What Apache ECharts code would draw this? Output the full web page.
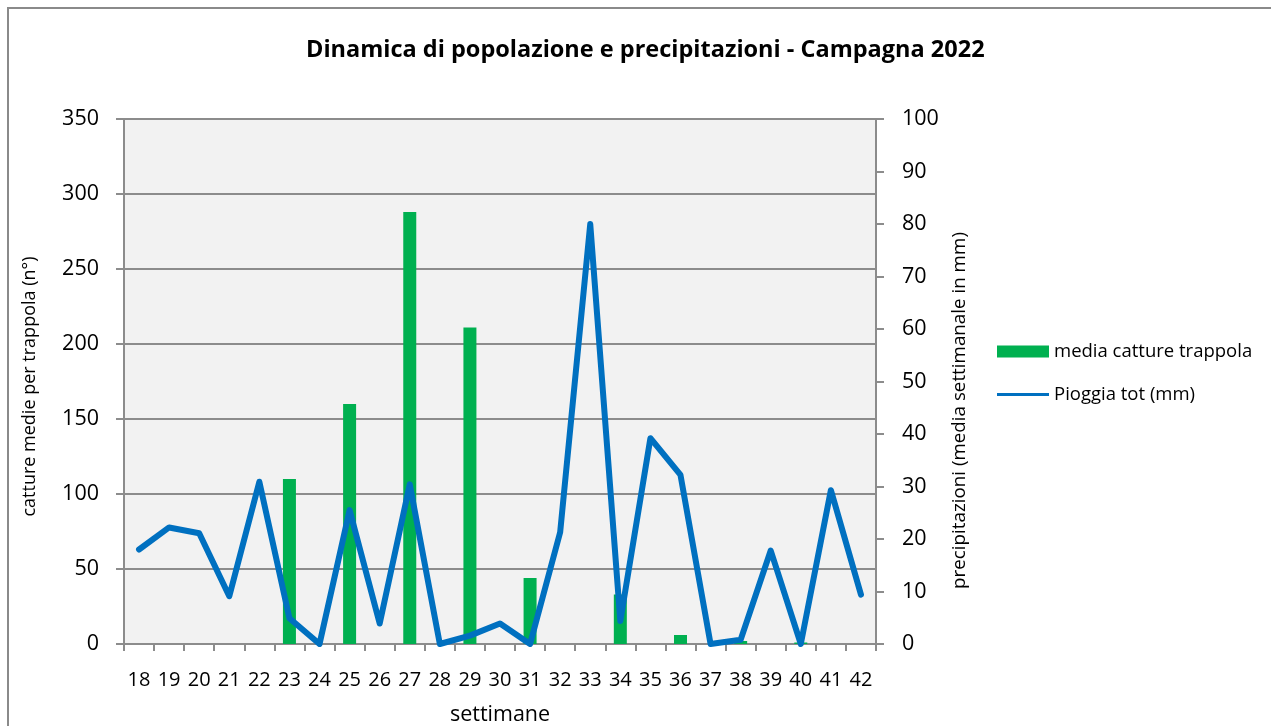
<!DOCTYPE html>
<html>
<head>
<meta charset="utf-8">
<script src="https://cdn.jsdelivr.net/npm/echarts@6/dist/echarts.min.js"></script>
<style>
  html, body { margin: 0; padding: 0; background: #fff; }
  #chart { width: 1271px; height: 726px; }
</style>
</head>
<body>
<div id="chart"></div>
<script>
// settimane
var weeks = ["18","19","20","21","22","23","24","25","26","27","28","29","30","31","32","33","34","35","36","37","38","39","40","41","42"];
// media catture trappola (asse sinistro)
var catture = [0, 0, 0, 0, 0, 110, 0, 160, 0, 288, 0, 211, 0, 44, 0, 0, 33, 0, 6, 0, 2, 0, 1, 0, 0];
// pioggia tot mm (asse destro)
var pioggia = [18, 22.2, 21.1, 9.1, 30.9, 4.9, 0, 25.5, 3.9, 30.4, 0, 1.6, 3.9, 0, 21.3, 80, 4.4, 39.2, 32.2, 0, 0.8, 17.8, 0, 29.3, 9.4];

var FONT = "Open Sans";
var myChart = echarts.init(document.getElementById("chart"));

var option = {
  backgroundColor: "#ffffff",
  textStyle: { fontFamily: FONT, color: "#000" },
  animation: false,
  graphic: [
    {
      type: "rect",
      shape: { x: 8, y: 8, width: 1400, height: 900 },
      style: { fill: "none", stroke: "#8a8a8a", lineWidth: 2 },
      silent: true
    }
  ],
  title: {
    text: "Dinamica di popolazione e precipitazioni - Campagna 2022",
    left: 301,
    top: 33,
    textStyle: { fontFamily: FONT, fontWeight: "bold", fontSize: 23.5, color: "#000" }
  },
  legend: {
    orient: "vertical",
    left: 992,
    top: 337,
    itemWidth: 52,
    itemHeight: 12,
    itemGap: 24,
    textStyle: { fontFamily: FONT, fontSize: 18.5, color: "#000" },
    data: [
      { name: "media catture trappola", icon: "rect" },
      { name: "Pioggia tot (mm)", icon: "path://M0,0 L52,0 L52,3 L0,3 Z" }
    ]
  },
  grid: {
    left: 124,
    top: 119,
    width: 752,
    height: 525,
    outerBoundsMode: "none",
    containLabel: false,
    show: true,
    backgroundColor: "#f2f2f2",
    borderWidth: 0
  },
  xAxis: {
    type: "category",
    data: weeks,
    name: "settimane",
    nameLocation: "middle",
    nameGap: 60,
    nameTextStyle: { fontFamily: FONT, fontSize: 21.5, color: "#000" },
    axisLine: { lineStyle: { color: "#8c8c8c", width: 2 } },
    axisTick: { show: true, length: 7, lineStyle: { color: "#8c8c8c", width: 2 } },
    axisLabel: { margin: 26, fontFamily: FONT, fontSize: 20, color: "#000" }
  },
  yAxis: [
    {
      type: "value",
      min: 0,
      max: 350,
      interval: 50,
      name: "catture medie per trappola (n°)",
      nameLocation: "middle",
      nameGap: 85,
      nameTextStyle: { fontFamily: FONT, fontSize: 18, color: "#000", padding: [0, 10, 0, 0] },
      axisLine: { show: true, lineStyle: { color: "#8c8c8c", width: 2 } },
      axisTick: { show: true, length: 8, lineStyle: { color: "#8c8c8c", width: 2 } },
      axisLabel: { margin: 25, fontFamily: FONT, fontSize: 21.5, color: "#000" },
      splitLine: { show: true, lineStyle: { color: "#8c8c8c", width: 2 } }
    },
    {
      type: "value",
      min: 0,
      max: 100,
      interval: 10,
      position: "right",
      name: "precipitazioni (media settimanale in mm)",
      nameLocation: "middle",
      nameGap: 73,
      nameTextStyle: { fontFamily: FONT, fontSize: 18.8, color: "#000", padding: [0, 58, 0, 0] },
      axisLine: { show: true, lineStyle: { color: "#8c8c8c", width: 2 } },
      axisTick: { show: true, length: 8, lineStyle: { color: "#8c8c8c", width: 2 } },
      axisLabel: { margin: 26, fontFamily: FONT, fontSize: 21.5, color: "#000" },
      splitLine: { show: false }
    }
  ],
  series: [
    {
      name: "media catture trappola",
      type: "bar",
      yAxisIndex: 0,
      data: catture,
      barWidth: 13,
      itemStyle: { color: "#00b050" }
    },
    {
      name: "Pioggia tot (mm)",
      type: "line",
      yAxisIndex: 1,
      data: pioggia,
      symbol: "none",
      lineStyle: { color: "#0070c0", width: 6, cap: "round", join: "round" },
      itemStyle: { color: "#0070c0" }
    }
  ]
};
myChart.setOption(option);
</script>
</body>
</html>
